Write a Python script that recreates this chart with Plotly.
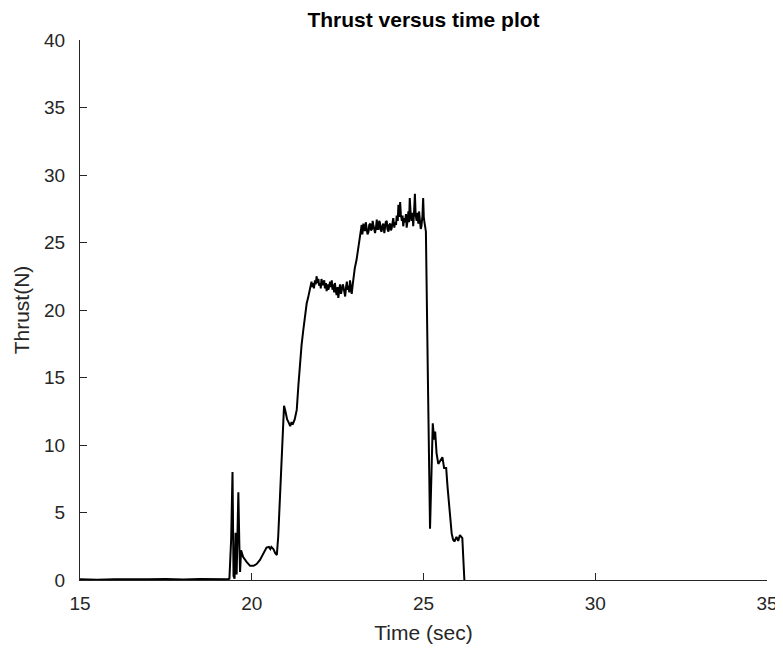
import plotly.graph_objects as go

# Time (s) and thrust (N)
time_s = [
    15.00, 15.50, 16.00, 16.50, 17.00, 17.50, 18.00, 18.50, 19.00, 19.30,
    19.35, 19.40, 19.44, 19.47, 19.50, 19.53, 19.56, 19.61, 19.64, 19.66,
    19.69, 19.75, 19.85, 19.95, 20.05, 20.14, 20.24, 20.34, 20.43, 20.50,
    20.54, 20.57, 20.63, 20.68, 20.73, 20.77, 20.82, 20.87, 20.91, 20.94,
    20.98, 21.03, 21.07, 21.12, 21.16, 21.19, 21.25, 21.31, 21.36, 21.40,
    21.45, 21.50, 21.55, 21.60, 21.64, 21.68,
    21.74, 21.76, 21.79, 21.81, 21.84, 21.86, 21.89, 21.91, 21.94, 21.96,
    21.99, 22.01, 22.03, 22.06, 22.08, 22.11, 22.13, 22.16, 22.18, 22.21,
    22.23, 22.26, 22.28, 22.31, 22.33, 22.35, 22.37, 22.40, 22.42, 22.45,
    22.47, 22.50, 22.52, 22.55, 22.57, 22.60, 22.62, 22.65, 22.67, 22.70,
    22.72, 22.75, 22.77, 22.79, 22.81, 22.84, 22.86, 22.89, 22.91, 22.94,
    22.96, 23.00, 23.05, 23.10, 23.15,
    23.20, 23.22, 23.25, 23.27, 23.30, 23.32, 23.35, 23.37, 23.40, 23.42,
    23.45, 23.47, 23.50, 23.52, 23.54, 23.57, 23.59, 23.62, 23.64, 23.66,
    23.69, 23.71, 23.73, 23.76, 23.78, 23.81, 23.83, 23.86, 23.88, 23.90,
    23.93, 23.95, 23.98, 24.00, 24.03, 24.05, 24.07, 24.10, 24.12, 24.15,
    24.17, 24.20, 24.22, 24.25, 24.27, 24.30, 24.32, 24.34, 24.37, 24.39,
    24.41, 24.44, 24.46, 24.49, 24.51, 24.54, 24.56, 24.58, 24.60, 24.63,
    24.65, 24.68, 24.70, 24.72, 24.75, 24.77, 24.80, 24.82, 24.85, 24.87,
    24.89, 24.92, 24.94, 24.97, 24.99, 25.01, 25.04, 25.07,
    25.13, 25.19, 25.27, 25.31, 25.34, 25.38, 25.43, 25.49, 25.55, 25.60,
    25.66, 25.70, 25.77, 25.82, 25.86, 25.90, 25.96, 26.01, 26.06, 26.13,
    26.19,
]

thrust_n = [
    0.05, 0.02, 0.06, 0.03, 0.05, 0.08, 0.04, 0.07, 0.05, 0.06,
    0.10, 3.00, 8.00, 0.30, 0.10, 3.50, 0.40, 6.50, 2.50, 0.60,
    2.20, 1.70, 1.35, 1.05, 1.05, 1.18, 1.48, 1.97, 2.40, 2.45,
    2.30, 2.45, 2.30, 2.00, 1.85, 3.20, 6.40, 8.90, 11.50, 12.90,
    12.50, 11.90, 11.70, 11.40, 11.70, 11.50, 11.90, 12.60, 14.50, 16.00,
    17.40, 18.50, 19.60, 20.50, 20.90, 21.40,
    22.1, 21.7, 22.0, 21.6, 22.2, 21.9, 22.5, 22.0, 22.3, 21.8,
    22.0, 21.6, 22.3, 21.9, 21.85, 22.2, 21.6, 22.0, 21.4, 21.9,
    21.5, 21.8, 22.1, 21.7, 22.2, 21.5, 21.9, 21.3, 22.0, 21.4,
    21.1, 21.7, 20.9, 21.5, 21.9, 21.2, 21.4, 21.9, 21.7, 21.3,
    21.0, 21.8, 22.1, 21.5, 21.8, 21.3, 22.2, 21.6, 21.2, 21.9,
    22.5, 23.1, 23.7, 24.6, 25.1,
    26.3, 25.6, 26.4, 25.9, 25.9, 26.5, 26.1, 25.6, 25.8, 26.3,
    26.4, 25.9, 26.0, 26.6, 26.3, 25.9, 25.7, 26.2, 26.7, 26.0,
    26.0, 26.6, 26.5, 25.9, 25.8, 26.3, 26.4, 25.7, 26.1, 26.5,
    26.6, 26.0, 25.8, 26.3, 26.4, 25.9, 26.0, 26.5, 26.8, 26.1,
    26.5, 26.3, 27.0, 26.6, 27.8, 26.9, 28.0, 27.1, 26.6, 27.0,
    26.2, 26.8, 26.5, 27.1, 26.1, 26.7, 27.3, 26.5, 28.3, 27.0,
    26.6, 27.2, 26.2, 27.0, 28.6, 27.1, 26.6, 27.2, 26.4, 27.3,
    26.9, 26.0, 26.2, 27.0, 28.3, 26.8, 26.3, 25.8,
    14.50, 3.80, 11.60, 10.40, 11.00, 9.40, 8.60, 8.90, 9.10, 8.30,
    8.30, 6.90, 4.70, 3.45, 3.00, 2.85, 3.20, 2.90, 3.33, 3.10,
    0.00,
]

x_ticks = [15, 20, 25, 30, 35]
y_ticks = [0, 5, 10, 15, 20, 25, 30, 35, 40]

axis_color = "#262626"
font_family = "Liberation Sans, Arial, sans-serif"

# The page body adds an 8px offset, so the figure is sized to fit 783x652
fig_w, fig_h = 775, 644

fig = go.Figure()
fig.add_trace(go.Scatter(
    x=time_s, y=thrust_n, mode="lines",
    line=dict(color="black", width=2),
    showlegend=False, hoverinfo="skip",
))

fig.update_layout(
    width=fig_w, height=fig_h,
    margin=dict(l=72, r=16, t=32, b=72, autoexpand=False),
    paper_bgcolor="white", plot_bgcolor="white",
    font=dict(family=font_family, color=axis_color),
    title=dict(
        text="<b>Thrust versus time plot</b>",
        font=dict(family=font_family, size=21, color="black"),
        x=0.5, xref="paper", xanchor="center",
        y=1 - 12 / fig_h, yref="container", yanchor="middle",
    ),
    xaxis=dict(
        range=[15, 35], tickvals=x_ticks, ticktext=[str(v) for v in x_ticks],
        showgrid=False, zeroline=False, automargin=False,
        showline=True, linecolor=axis_color, linewidth=1,
        ticks="inside", ticklen=7, tickcolor=axis_color, tickwidth=1,
        tickfont=dict(size=19, color=axis_color),
        ticklabelstandoff=6,
        title=dict(text="Time (sec)", font=dict(size=21, color=axis_color), standoff=12),
    ),
    yaxis=dict(
        range=[0, 40], tickvals=y_ticks, ticktext=[str(v) for v in y_ticks],
        showgrid=False, zeroline=False, automargin=False,
        showline=True, linecolor=axis_color, linewidth=1,
        ticks="inside", ticklen=7, tickcolor=axis_color, tickwidth=1,
        tickfont=dict(size=19, color=axis_color),
        ticklabelstandoff=10,
        title=dict(text="Thrust(N)", font=dict(size=21, color=axis_color), standoff=8),
    ),
)

fig.write_html("out.html")
